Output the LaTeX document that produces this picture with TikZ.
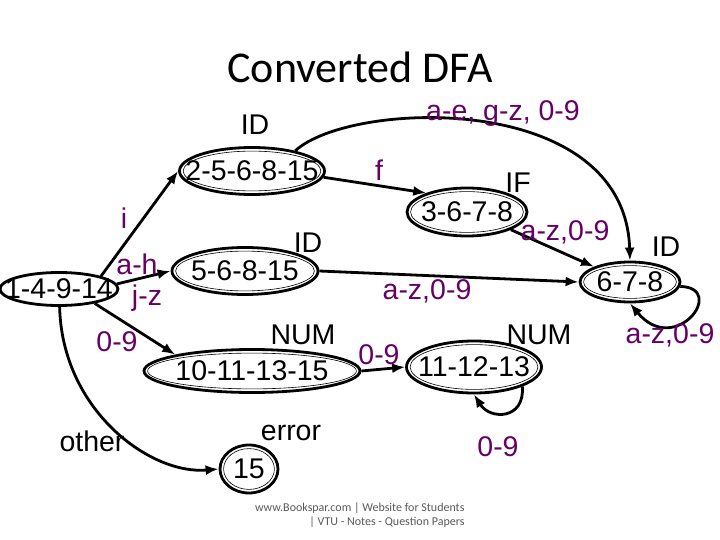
\documentclass[tikz,border=0pt]{standalone}
\usepackage{fontspec}
\setmainfont{Liberation Sans}
\newfontfamily\titlefont{Carlito}
\usetikzlibrary{shapes.geometric,arrows.meta,calc}
\definecolor{lbl}{RGB}{102,0,102}
\newcommand\st[1]{\makebox[0pt]{#1}}

\begin{document}
\begin{tikzpicture}[x=1pt,y=-1pt,
  every node/.style={font=\fontsize{28.5}{31}\selectfont},
  state/.style={ellipse,draw,line width=2.8pt,inner sep=0pt},
  lab/.style={text=lbl},
  edge/.style={line width=2.8pt,-{Latex[length=13pt,width=10pt]}}]
\useasboundingbox (0,0) rectangle (720,540);
\node[font=\titlefont\fontsize{44}{48}\selectfont] (title) at (360,67) {Converted DFA};
% states
\node[state,minimum width=118pt,minimum height=33pt] (s1) at (59,289) {\st{1-4-9-14}};
\node[state,minimum width=145pt,minimum height=47pt] (s2) at (252,171) {\st{2-5-6-8-15}};
\node[state,minimum width=146pt,minimum height=47pt] (s3) at (245,271) {\st{5-6-8-15}};
\node[state,minimum width=120pt,minimum height=48pt] (s4) at (467,212) {\st{3-6-7-8}};
\node[state,minimum width=100pt,minimum height=40pt] (s5) at (630,282) {\st{6-7-8}};
\node[state,minimum width=216pt,minimum height=43pt] (s6) at (252,371) {\st{10-11-13-15}};
\node[state,minimum width=135pt,minimum height=52pt] (s7) at (474,367) {\st{11-12-13}};
\node[state,minimum width=58pt,minimum height=48pt] (s8) at (249,469) {\st{15}};
\foreach \q in {s2,s3,s4,s5,s6,s7,s8}
  \draw[line width=.6pt] let \p1=($(\q.east)-(\q.center)$),\p2=($(\q.north)-(\q.center)$) in
    (\q.center) ellipse [x radius=\x1-5pt,y radius=\y2-5pt];
% token names
\node (t2) at (255,125) {ID};
\node (t3) at (308,243) {ID};
\node (t4) at (518,183) {IF};
\node (t5) at (666,247) {ID};
\node (t6) at (303,335) {NUM};
\node (t7) at (539,335) {NUM};
\node (t8) at (291,433) {error};
% transitions
\draw[edge] (s1.17) -- (s2.west);
\draw[edge] (s1.5) -- (s3.west);
\draw[edge] (s1.-22) -- (s6.168);
\draw[edge] (s1.-88) .. controls (62,410) and (150,475) .. (s8.west);
\draw[edge] (s2.-5) -- (s4.155);
\draw[edge] (s2.25) .. controls (350,100) and (625,90) .. (s5.north);
\draw[edge] (s3.east) -- (s5.west);
\draw[edge] (s4.-22) -- (s5.157);
\draw[edge] (s6.east) -- (s7.west);
\draw[edge] (s5.-5) .. controls (728,288) and (675,358) .. (s5.south);
\draw[edge] (s7.-22) .. controls (525,420) and (490,420) .. (s7.south);
\node[lab] (e1) at (124,218) {i};
\node[lab] (e2) at (137,264) {a-h};
\node[lab] (e3) at (147,298) {j-z};
\node[lab] (e5) at (117,342) {0-9};
\node (e4) at (92,441) {other};
\node[lab] (e6) at (379,170) {f};
\node[lab] (e7) at (503,114) {a-e, g-z, 0-9};
\node[lab] (e8) at (565,232) {a-z,0-9};
\node[lab] (e9) at (427,291) {a-z,0-9};
\node[lab] (e10) at (379,355) {0-9};
\node[lab] (e11) at (498,447) {0-9};
\node[lab] (e12) at (670,335) {a-z,0-9};
\node[font=\titlefont\fontsize{12}{14}\selectfont,text=black!65,align=right,anchor=east] (wm) at (468,515)
  {www.Bookspar.com | Website for Students\\| VTU - Notes - Question Papers};
\end{tikzpicture}
\end{document}
